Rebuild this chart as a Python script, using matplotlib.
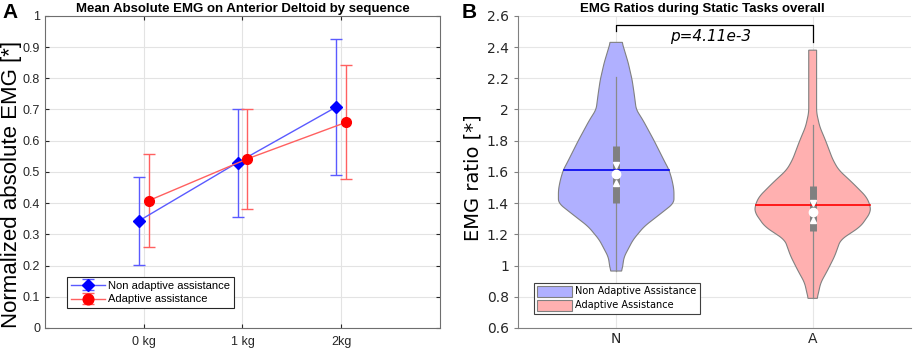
import numpy as np
import matplotlib
matplotlib.use('Agg')
import matplotlib.pyplot as plt
from matplotlib.patches import Patch

# panel A: mean absolute EMG per load, two assistance modes
loads = ['0 kg', '1 kg', '2kg']
nonadapt_mean = [0.343, 0.530, 0.708]
nonadapt_lo = [0.203, 0.357, 0.491]
nonadapt_hi = [0.483, 0.703, 0.926]
adapt_mean = [0.408, 0.542, 0.659]
adapt_lo = [0.259, 0.380, 0.476]
adapt_hi = [0.556, 0.703, 0.843]

# panel B: violin outlines (ratio, half width in x units)
groups = ['N', 'A']
n_y = [0.965, 0.97, 1.055, 1.165, 1.25, 1.34, 1.40, 1.485, 1.55, 1.613, 1.66, 1.80, 1.93, 2.0, 2.106, 2.19, 2.30, 2.43]
n_w = [0.025, 0.030, 0.040, 0.086, 0.142, 0.234, 0.294, 0.294, 0.284, 0.269, 0.249, 0.193, 0.137, 0.102, 0.091, 0.081, 0.061, 0.030]
a_y = [0.79, 0.80, 0.89, 0.97, 1.06, 1.165, 1.25, 1.34, 1.38, 1.44, 1.53, 1.613, 1.68, 1.80, 1.89, 1.98, 2.38]
a_w = [0.022, 0.025, 0.041, 0.076, 0.112, 0.142, 0.244, 0.294, 0.294, 0.274, 0.203, 0.132, 0.102, 0.066, 0.036, 0.020, 0.020]
means = [1.615, 1.385]
medians = [1.585, 1.345]
q1 = [1.40, 1.22]
q3 = [1.765, 1.51]
notch_lo = [1.53, 1.29]
notch_hi = [1.645, 1.40]
whisk_lo = [0.965, 0.79]
whisk_hi = [2.21, 1.90]
p_text = 'p=4.11e-3'


def smooth_outline(yy, ww, n=300, k=11):
    ''' linear outline on a fine grid, rounded off with a small moving average'''
    yf = np.linspace(yy[0], yy[-1], n)
    wf = np.interp(yf, yy, ww)
    pad = k // 2
    wp = np.concatenate([np.full(pad, wf[0]), wf, np.full(pad, wf[-1])])
    ws = np.convolve(wp, np.ones(k) / k, mode='valid')
    return yf, ws


fig = plt.figure(figsize=(9.13, 3.48), dpi=100)

# ---------------- panel A
ax1 = fig.add_axes([0.0493, 0.0575, 0.4326, 0.897])
x = np.arange(1, len(loads) + 1)
off = 0.05
blue_l = '#5a5aff'
red_l = '#ff6060'
ax1.errorbar(x - off, nonadapt_mean,
             yerr=[np.subtract(nonadapt_mean, nonadapt_lo), np.subtract(nonadapt_hi, nonadapt_mean)],
             color=blue_l, lw=1, marker='D', ms=6, mfc='blue', mec='blue',
             capsize=4, elinewidth=1, label='Non adaptive assistance', zorder=3)
ax1.errorbar(x + off, adapt_mean,
             yerr=[np.subtract(adapt_mean, adapt_lo), np.subtract(adapt_hi, adapt_mean)],
             color=red_l, lw=1, marker='o', ms=7, mfc='red', mec='red',
             capsize=4, elinewidth=1, label='Adaptive assistance', zorder=3)
ax1.set_xlim(0, 4)
ax1.set_ylim(0, 1)
ax1.set_xticks(x)
ax1.set_xticklabels(loads)
ax1.set_yticks(np.arange(0, 1.01, 0.1))
ax1.set_yticklabels(['0', '0.1', '0.2', '0.3', '0.4', '0.5', '0.6', '0.7', '0.8', '0.9', '1'])
ax1.grid(True, color='#e3e3e3', lw=0.8)
ax1.set_axisbelow(True)
ax1.tick_params(direction='in', length=3, top=True, right=True, labelsize=9,
                colors='#262626', labelcolor='#262626')
ax1.tick_params(axis='x', pad=6)
for lab in ax1.get_xticklabels() + ax1.get_yticklabels():
    lab.set_family('Liberation Sans')
for s in ax1.spines.values():
    s.set_color('#6e6e6e')
ax1.set_title('Mean Absolute EMG on Anterior Deltoid by sequence', fontsize=9.5,
              fontweight='bold', family='Liberation Sans', pad=3)
ax1.set_ylabel('Normalized absolute EMG [*]', fontsize=16, family='Liberation Sans')
ax1.yaxis.set_label_coords(-0.058, 0.46)
leg1 = ax1.legend(loc='lower left', bbox_to_anchor=(0.055, 0.063), fancybox=False,
                  edgecolor='#262626', framealpha=1, handlelength=3.1, borderpad=0.35,
                  labelspacing=0.35, handletextpad=0.3, borderaxespad=0, markerscale=1.1,
                  prop={'family': 'Liberation Sans', 'size': 8})
leg1.get_frame().set_linewidth(0.8)

# ---------------- panel B
ax2 = fig.add_axes([0.5673, 0.0575, 0.4304, 0.897])
fills = ['#b0b0ff', '#ffb0b0']
mcols = ['#0000ee', '#ff0000']
for i, (yy, ww) in enumerate([(n_y, n_w), (a_y, a_w)]):
    c = i + 1
    yf, wf = smooth_outline(np.array(yy), np.array(ww))
    xs = np.concatenate([c - wf, (c + wf)[::-1]])
    ys = np.concatenate([yf, yf[::-1]])
    ax2.fill(xs, ys, facecolor=fills[i], edgecolor='#808080', lw=0.8, zorder=2)
    # whisker and box
    ax2.plot([c, c], [whisk_lo[i], whisk_hi[i]], color='#8a8a8a', lw=0.9, zorder=3)
    ax2.plot([c, c], [q1[i], q3[i]], color='#808080', lw=5, solid_capstyle='butt', zorder=4)
    # mean line across violin width
    hw = np.interp(means[i], yf, wf)
    ax2.plot([c - hw, c + hw], [means[i], means[i]], color=mcols[i], lw=1.2, zorder=5)
    # notch markers and median
    ax2.plot(c, notch_hi[i], marker='v', ms=5, color='white', mec='white', zorder=6)
    ax2.plot(c, notch_lo[i], marker='^', ms=5, color='white', mec='white', zorder=6)
    ax2.plot(c, medians[i], marker='o', ms=6, mfc='white', mec='white', zorder=7)

# significance bracket
ax2.plot([1, 1, 2, 2], [2.50, 2.54, 2.54, 2.43], color='black', lw=0.9, zorder=5)
ax2.text(1.48, 2.465, p_text, ha='center', va='center', fontsize=11, style='italic',
         family='DejaVu Sans')

ax2.set_xlim(0.5, 2.5)
ax2.set_ylim(0.6, 2.6)
ax2.set_xticks([1, 2])
ax2.set_xticklabels(groups)
ax2.set_yticks(np.arange(0.6, 2.61, 0.2))
ax2.set_yticklabels(['0.6', '0.8', '1', '1.2', '1.4', '1.6', '1.8', '2', '2.2', '2.4', '2.6'])
ax2.grid(True, color='#e6e6e6', lw=0.8)
ax2.set_axisbelow(True)
ax2.spines['top'].set_visible(False)
ax2.spines['right'].set_visible(False)
ax2.spines['left'].set_color('#808080')
ax2.spines['bottom'].set_color('#808080')
ax2.tick_params(axis='y', direction='out', length=3, labelsize=10, colors='#808080',
                labelcolor='#262626')
ax2.tick_params(axis='x', length=0, labelsize=10, labelcolor='#262626', pad=3)
ax2.set_title('EMG Ratios during Static Tasks overall', fontsize=9.5, fontweight='bold',
              family='Liberation Sans', pad=3, x=0.47)
ax2.set_ylabel('EMG ratio [*]', fontsize=14)
ax2.yaxis.set_label_coords(-0.09, 0.48)
handles = [Patch(facecolor=fills[0], edgecolor='#808080', lw=0.8),
           Patch(facecolor=fills[1], edgecolor='#808080', lw=0.8)]
leg2 = ax2.legend(handles, ['Non Adaptive Assistance', 'Adaptive Assistance'], loc='lower left',
                  bbox_to_anchor=(0.04, 0.045), fontsize=7, fancybox=False, edgecolor='#404040',
                  framealpha=1, handlelength=3.6, handleheight=1.3, borderpad=0.35,
                  labelspacing=0.35, handletextpad=0.3, borderaxespad=0)
leg2.get_frame().set_linewidth(0.8)

fig.text(0.003, 0.99, 'A', fontsize=15, fontweight='bold', va='top', ha='left', family='Liberation Sans')
fig.text(0.506, 0.99, 'B', fontsize=15, fontweight='bold', va='top', ha='left', family='Liberation Sans')

fig.savefig('out.png', dpi=100)
